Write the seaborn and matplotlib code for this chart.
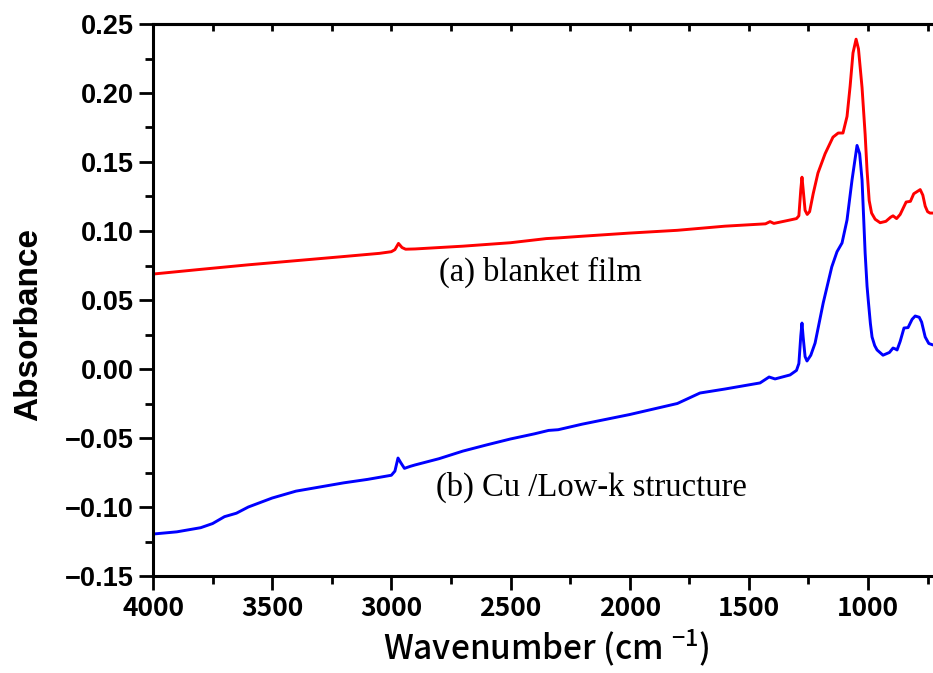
import matplotlib
matplotlib.use("Agg")
import matplotlib.pyplot as plt
from matplotlib.ticker import MultipleLocator, FuncFormatter
import pandas as pd
import seaborn as sns

# FTIR absorbance spectra: wavenumber (cm^-1) and absorbance
wn_a = [4000, 3800, 3600, 3400, 3200, 3050, 3000, 2985, 2970, 2955, 2940, 2900,
        2700, 2500, 2350, 2300, 2200, 2000, 1800, 1700, 1600, 1500, 1430, 1411,
        1395, 1340, 1300, 1290, 1282, 1277, 1272, 1264, 1255, 1245, 1230, 1210,
        1180, 1147, 1125, 1105, 1088, 1075, 1063, 1050, 1040, 1025, 1012, 1004,
        995, 985, 970, 949, 925, 905, 895, 880, 865, 840, 822, 808, 790, 781,
        770, 760, 750, 740, 727]
abs_a = [0.0688, 0.0722, 0.0755, 0.0785, 0.0815, 0.0838, 0.0850, 0.0865, 0.0910,
         0.0880, 0.0868, 0.0870, 0.0890, 0.0915, 0.0945, 0.0950, 0.0962, 0.0985,
         0.1005, 0.1020, 0.1035, 0.1045, 0.1052, 0.1068, 0.1055, 0.1075, 0.1090,
         0.1110, 0.1300, 0.1390, 0.1300, 0.1150, 0.1120, 0.1140, 0.1270, 0.1420,
         0.1560, 0.1680, 0.1710, 0.1710, 0.1830, 0.2050, 0.2290, 0.2390, 0.2320,
         0.2040, 0.1700, 0.1440, 0.1220, 0.1130, 0.1085, 0.1060, 0.1070, 0.1100,
         0.1110, 0.1090, 0.1120, 0.1210, 0.1215, 0.1270, 0.1290, 0.1300, 0.1260,
         0.1180, 0.1140, 0.1130, 0.1130]

wn_b = [4000, 3900, 3800, 3750, 3700, 3650, 3600, 3500, 3400, 3300, 3200, 3100,
        3000, 2985, 2972, 2960, 2945, 2920, 2900, 2800, 2700, 2600, 2500, 2400,
        2340, 2300, 2200, 2100, 2000, 1900, 1800, 1705, 1600, 1500, 1453, 1415,
        1390, 1327, 1300, 1290, 1282, 1277, 1272, 1264, 1256, 1240, 1222, 1188,
        1152, 1130, 1109, 1088, 1067, 1046, 1035, 1025, 1012, 1004, 999, 990,
        983, 972, 962, 937, 910, 895, 885, 878, 865, 849, 832, 815, 802, 785,
        775, 760, 745, 727]
abs_b = [-0.1196, -0.1180, -0.1150, -0.1120, -0.1070, -0.1045, -0.1000, -0.0935,
         -0.0885, -0.0855, -0.0825, -0.0800, -0.0770, -0.0740, -0.0645, -0.0680,
         -0.0720, -0.0705, -0.0695, -0.0650, -0.0595, -0.0550, -0.0507, -0.0470,
         -0.0445, -0.0440, -0.0400, -0.0365, -0.0330, -0.0290, -0.0250, -0.0174,
         -0.0145, -0.0115, -0.0101, -0.0058, -0.0072, -0.0043, -0.0010, 0.0040,
         0.0240, 0.0333, 0.0230, 0.0090, 0.0058, 0.0100, 0.0188, 0.0478, 0.0740,
         0.0850, 0.0913, 0.1080, 0.1370, 0.1620, 0.1560, 0.1370, 0.0840, 0.0600,
         0.0500, 0.0330, 0.0232, 0.0170, 0.0138, 0.0100, 0.0120, 0.0152, 0.0145,
         0.0138, 0.0200, 0.0297, 0.0300, 0.0360, 0.0384, 0.0375, 0.0340, 0.0232,
         0.0185, 0.0174]

label_a = "(a) blanket film"
label_b = "(b) Cu /Low-k structure"

df = pd.concat([
    pd.DataFrame({"wavenumber": wn_a, "absorbance": abs_a, "sample": label_a}),
    pd.DataFrame({"wavenumber": wn_b, "absorbance": abs_b, "sample": label_b}),
])

sns.set_style("ticks")
plt.rcParams.update({
    "mathtext.fontset": "custom",
    "mathtext.rm": "Noto Sans CJK JP:medium",
    "mathtext.it": "Noto Sans CJK JP:medium",
    "text.color": "black",
    "axes.labelcolor": "black",
    "xtick.color": "black",
    "ytick.color": "black",
    "axes.edgecolor": "black",
})

W, H = 933, 673
fig = plt.figure(figsize=(W / 100, H / 100), dpi=100)
left, right, top, bottom = 153, 939.5, 24, 576
ax = fig.add_axes([left / W, 1 - bottom / H, (right - left) / W, (bottom - top) / H])

sns.lineplot(data=df, x="wavenumber", y="absorbance", hue="sample",
             palette={label_a: "#ff0000", label_b: "#0000ff"},
             estimator=None, sort=True, linewidth=2.1, legend=False, ax=ax)

ax.set_xlim(4000, 700)
ax.set_ylim(-0.15, 0.25)
ax.xaxis.set_major_locator(MultipleLocator(500))
ax.xaxis.set_minor_locator(MultipleLocator(250))
ax.yaxis.set_major_locator(MultipleLocator(0.05))
ax.yaxis.set_minor_locator(MultipleLocator(0.025))
ax.yaxis.set_major_formatter(FuncFormatter(
    lambda v, p: f"{v:.2f}".replace("-", "\u2212")))

for s in ["left", "bottom", "top", "right"]:
    ax.spines[s].set_linewidth(2.2)
    ax.spines[s].set_color("black")

ax.tick_params(axis="both", which="major", direction="out", length=10, width=2, color="black")
ax.tick_params(axis="both", which="minor", direction="out", length=6, width=2, color="black")

for lab in ax.get_yticklabels():
    lab.set_fontfamily("Liberation Sans")
    lab.set_fontweight("bold")
    lab.set_fontsize(19.5)
for lab in ax.get_xticklabels():
    lab.set_fontfamily("Noto Sans CJK JP")
    lab.set_fontweight("bold")
    lab.set_fontsize(19)

# inward ticks along the top edge
sec = ax.secondary_xaxis("top")
sec.xaxis.set_major_locator(MultipleLocator(250))
sec.tick_params(direction="in", length=5, width=2, labeltop=False, color="black")
sec.spines["top"].set_linewidth(2.2)

ax.set_xlabel("Wavenumber (cm $^{-1}$)", fontfamily="Noto Sans CJK JP",
              fontsize=24, fontweight="medium", labelpad=4)
ax.set_ylabel("Absorbance", fontfamily="Liberation Sans", fontsize=24,
              fontweight="bold")
ax.yaxis.set_label_coords(-0.139, 0.455)

ax.text(2800, 0.0700, label_a, fontfamily="Liberation Serif", fontsize=23.5,
        ha="left", va="center", color="black")
ax.text(2812, -0.0855, label_b, fontfamily="Liberation Serif", fontsize=23.5,
        ha="left", va="center", color="black")

fig.savefig("out.png", dpi=100, facecolor="white")
